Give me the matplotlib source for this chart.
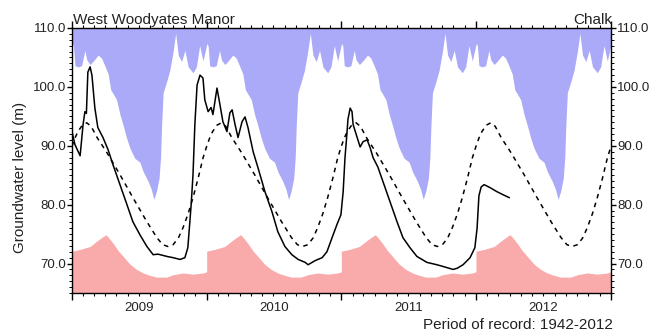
import numpy as np
import matplotlib
matplotlib.use('Agg')
import matplotlib.pyplot as plt
import matplotlib.dates as mdates
import matplotlib.transforms as mtransforms
from matplotlib.ticker import MultipleLocator, FormatStrFormatter, NullFormatter

plt.rcParams['font.family'] = ['Liberation Sans', 'DejaVu Sans']

# ---------------- data ----------------
years = [2009, 2010, 2011, 2012]
year_labels = ['2009', '2010', '2011', '2012']

# long-term maximum (day of year, level m)
clim_doy_max = [0, 4, 8, 17, 26, 35, 40, 49, 58, 71, 80, 89, 98, 105, 112, 121, 130, 139,
                148, 157, 170, 184, 193, 206, 215, 222, 229, 236, 240, 243, 247, 256, 265,
                274, 281, 288, 297, 306, 315, 328, 337, 346, 355, 365]
clim_max = [107.4, 107.0, 103.6, 103.4, 103.6, 106.2, 104.6, 103.8, 104.4, 105.4, 104.9,
            103.6, 102.2, 99.5, 98.8, 97.8, 95.3, 93.4, 91.3, 89.6, 87.9, 87.2, 85.6, 84.0,
            82.6, 80.9, 82.3, 84.5, 88.0, 93.6, 99.0, 100.8, 102.8, 106.0, 109.1, 105.4,
            104.3, 106.2, 103.4, 102.4, 103.4, 107.0, 104.4, 107.2]

# long-term minimum
clim_doy_min = [0, 22, 49, 67, 80, 92, 98, 112, 125, 139, 157, 175, 193, 211, 229, 256,
                274, 301, 328, 355, 365]
clim_min = [72.1, 72.4, 72.9, 73.8, 74.4, 74.9, 74.5, 73.4, 72.2, 71.2, 69.9, 69.0, 68.4,
            68.0, 67.7, 67.7, 68.1, 68.4, 68.2, 68.4, 68.6]

# long-term mean
clim_doy_mean = [0, 8, 16, 28, 40, 52, 68, 95, 130, 165, 203, 230, 246, 260, 274, 288,
                 301, 315, 328, 342, 355, 365]
clim_mean = [89.9, 91.3, 92.4, 93.5, 93.9, 93.3, 91.4, 88.8, 85.1, 81.2, 77.1, 74.4, 73.2,
             72.9, 73.2, 74.3, 76.1, 78.5, 81.2, 84.5, 87.9, 89.9]

# observed groundwater level
obs_dates = ['2009-01-01', '2009-01-09', '2009-01-23', '2009-01-31', '2009-02-05',
             '2009-02-09', '2009-02-13', '2009-02-19', '2009-02-24', '2009-03-04',
             '2009-03-12', '2009-03-26', '2009-04-09', '2009-04-22', '2009-05-11',
             '2009-05-30', '2009-06-15', '2009-07-04', '2009-07-23', '2009-08-09',
             '2009-08-22', '2009-09-16', '2009-10-02', '2009-10-21', '2009-11-03',
             '2009-11-11', '2009-11-20', '2009-11-25', '2009-11-30', '2009-12-06',
             '2009-12-14', '2009-12-22', '2009-12-27', '2010-01-05', '2010-01-13',
             '2010-01-18', '2010-01-29', '2010-02-06', '2010-02-14', '2010-02-25',
             '2010-03-05', '2010-03-11', '2010-03-19', '2010-03-27', '2010-04-07',
             '2010-04-15', '2010-04-23', '2010-05-07', '2010-05-20', '2010-06-08',
             '2010-06-27', '2010-07-13', '2010-08-01', '2010-08-20', '2010-09-06',
             '2010-09-25', '2010-10-03', '2010-10-22', '2010-11-10', '2010-11-23',
             '2010-12-07', '2010-12-20', '2010-12-31', '2011-01-06', '2011-01-11',
             '2011-01-16', '2011-01-19', '2011-01-25', '2011-01-30', '2011-02-02',
             '2011-02-13', '2011-02-21', '2011-03-01', '2011-03-12', '2011-03-20',
             '2011-03-28', '2011-04-10', '2011-04-24', '2011-05-13', '2011-06-01',
             '2011-06-17', '2011-07-06', '2011-07-25', '2011-08-21', '2011-09-17',
             '2011-10-04', '2011-10-31', '2011-11-11', '2011-11-27', '2011-12-16',
             '2011-12-29', '2012-01-04', '2012-01-09', '2012-01-15', '2012-01-23',
             '2012-02-08', '2012-02-27', '2012-03-14', '2012-03-31']
obs_level = [92.4, 90.2, 88.3, 93.6, 95.8, 95.5, 102.5, 103.4, 102.0, 96.4,
             93.1, 91.4, 89.3, 86.8, 83.4, 80.0, 77.1, 74.9, 72.9, 71.5,
             71.6, 71.2, 71.0, 70.7, 71.0, 72.7, 80.0, 85.1, 93.6, 100.3,
             102.0, 101.5, 97.8, 95.8, 96.5, 95.3, 99.8, 97.0, 94.1, 92.4,
             95.6, 96.1, 93.6, 91.4, 94.1, 94.9, 93.1, 89.0, 86.3, 82.2,
             78.8, 75.4, 72.9, 71.5, 70.7, 70.2, 69.8, 70.5, 71.0, 72.0,
             74.4, 76.6, 78.3, 82.2, 88.0, 91.9, 94.5, 96.4, 95.8, 93.6,
             91.4, 89.8, 90.7, 91.0, 89.7, 88.0, 86.4, 83.9, 80.5, 77.1,
             74.4, 72.7, 71.2, 70.2, 69.8, 69.5, 69.0, 69.2, 69.8, 71.0,
             72.7, 76.0, 81.5, 83.0, 83.4, 82.9, 82.2, 81.7, 81.2]

# ---------------- figure ----------------
W, H = 654, 331
fig = plt.figure(figsize=(W / 100, H / 100), dpi=100)
ax = fig.add_axes([72 / W, 1 - 293 / H, (611 - 72) / W, (293 - 28) / H])

ymin, ymax = 65.0, 110.0
blue = '#aaaaf8'
pink = '#f9aaaa'


def year_x(yr, doy):
    s = mdates.date2num(np.datetime64(f'{yr}-01-01'))
    e = mdates.date2num(np.datetime64(f'{yr + 1}-01-01'))
    return s + np.asarray(doy, dtype=float) / 365.0 * (e - s)


def tile(doy, vals):
    xs, ys = [], []
    for yr in years:
        xs.extend(year_x(yr, doy))
        ys.extend(vals)
    return np.array(xs), np.array(ys)


mx, my = tile(clim_doy_max, clim_max)
nx, ny = tile(clim_doy_min, clim_min)
ax_, ay_ = tile(clim_doy_mean, clim_mean)

ax.fill_between(mx, my, ymax + 5, color=blue, lw=0, zorder=1)
ax.fill_between(nx, ymin - 5, ny, color=pink, lw=0, zorder=1)
ax.plot(ax_, ay_, color='black', lw=1.1, dashes=(3, 3), zorder=3)

ox = mdates.date2num(np.array(obs_dates, dtype='datetime64[D]'))
ax.plot(ox, obs_level, color='black', lw=1.1, zorder=4)

ax.set_xlim(mdates.date2num(np.datetime64('2009-01-01')),
            mdates.date2num(np.datetime64('2013-01-01')))
ax.set_ylim(ymin, ymax)

ax.xaxis.set_major_locator(mdates.YearLocator())
ax.xaxis.set_minor_locator(mdates.MonthLocator())
ax.xaxis.set_major_formatter(NullFormatter())
ax.tick_params(axis='x', which='major', length=5, width=1, direction='out', top=True)
ax.tick_params(axis='x', which='minor', length=2.5, width=0.8, direction='out', top=True)

ax.yaxis.set_major_locator(MultipleLocator(10))
ax.yaxis.set_minor_locator(MultipleLocator(1))
ax.yaxis.set_major_formatter(FormatStrFormatter('%.1f'))
ax.tick_params(axis='y', which='major', length=3.5, width=1, direction='out',
               left=True, right=True, labelleft=True, labelright=True,
               labelsize=9.5, pad=0.8, colors='black', labelcolor='#222222')
ax.tick_params(axis='y', which='minor', length=2, width=0.7, direction='out',
               left=True, right=True)

for sp in ax.spines.values():
    sp.set_linewidth(1.0)
    sp.set_color('black')
    sp.set_zorder(5)

trans = mtransforms.blended_transform_factory(ax.transData, ax.transAxes)
for yr, lab in zip(years, year_labels):
    mid = year_x(yr, 182.5)
    ax.text(mid, -(311 - 293) / (293 - 28), lab, transform=trans, ha='center',
            va='baseline', fontsize=9.5, color='#222222')

fig.text(73 / W, 1 - 24 / H, 'West Woodyates Manor', ha='left', va='baseline',
         fontsize=11, color='#222222')
fig.text(612 / W, 1 - 24 / H, 'Chalk', ha='right', va='baseline',
         fontsize=11, color='#222222')
fig.text(613 / W, 1 - 329 / H, 'Period of record: 1942-2012', ha='right',
         va='baseline', fontsize=11, color='#222222')
fig.text(20 / W, 1 - 177 / H, 'Groundwater level (m)', ha='center', va='center',
         rotation=90, fontsize=11, color='#222222')

fig.savefig('out.png', dpi=100)
